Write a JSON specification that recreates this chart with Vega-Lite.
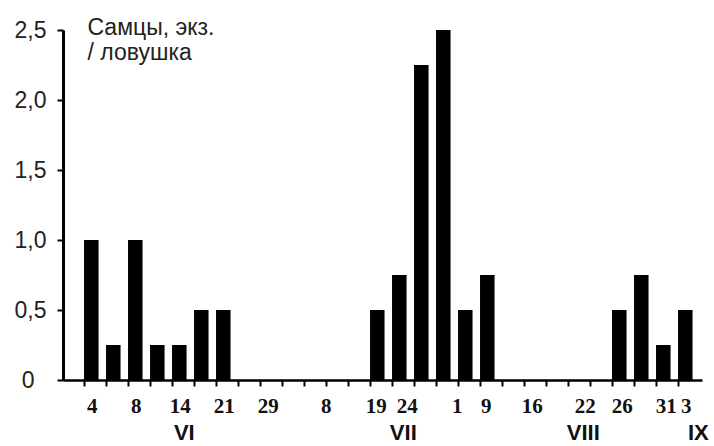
{
  "$schema": "https://vega.github.io/schema/vega-lite/v6.json",
  "width": 639,
  "height": 350,
  "autosize": {"type": "none"},
  "padding": {"left": 63, "top": 30, "right": 12, "bottom": 66},
  "background": "white",
  "config": {"view": {"stroke": null}, "axis": {"grid": false}},
  "data": {
    "values": [
      {"date": "06-04", "v": 1.0},
      {"date": "06-06", "v": 0.25},
      {"date": "06-08", "v": 1.0},
      {"date": "06-11", "v": 0.25},
      {"date": "06-14", "v": 0.25},
      {"date": "06-17", "v": 0.5},
      {"date": "06-21", "v": 0.5},
      {"date": "06-25", "v": 0},
      {"date": "06-29", "v": 0},
      {"date": "07-02", "v": 0},
      {"date": "07-05", "v": 0},
      {"date": "07-08", "v": 0},
      {"date": "07-13", "v": 0},
      {"date": "07-19", "v": 0.5},
      {"date": "07-22", "v": 0.75},
      {"date": "07-24", "v": 2.25},
      {"date": "07-28", "v": 2.5},
      {"date": "08-01", "v": 0.5},
      {"date": "08-09", "v": 0.75},
      {"date": "08-12", "v": 0},
      {"date": "08-16", "v": 0},
      {"date": "08-19", "v": 0},
      {"date": "08-22", "v": 0},
      {"date": "08-24", "v": 0},
      {"date": "08-26", "v": 0.5},
      {"date": "08-29", "v": 0.75},
      {"date": "08-31", "v": 0.25},
      {"date": "09-03", "v": 0.5}
    ]
  },
  "layer": [
    {
      "mark": {"type": "bar", "color": "black"},
      "encoding": {
        "x": {
          "field": "date",
          "type": "ordinal",
          "sort": null,
          "scale": {"paddingInner": 0.34, "paddingOuter": 0.693, "align": 0.69},
          "axis": {
            "orient": "bottom",
            "title": null,
            "bandPosition": 0,
            "domainColor": "black",
            "domainWidth": 2.5,
            "tickColor": "black",
            "tickWidth": 2,
            "tickSize": 6,
            "labelAngle": 0,
            "labelFont": "Liberation Serif",
            "labelFontSize": 21,
            "labelFontWeight": "bold",
            "labelColor": "#111111",
            "labelPadding": 9,
            "labelBaseline": "top",
            "labelAlign": "center",
            "labelOverlap": false,
            "labelOffset": {"expr": "datum.value == '07-08' ? -7 : datum.value == '07-19' ? -1 : datum.value == '07-24' ? -14 : datum.value == '08-01' ? -8 : datum.value == '08-09' ? -1 : datum.value == '08-22' ? 10 : datum.value == '08-26' ? 3 : datum.value == '08-31' ? 3 : 1"},
            "labelExpr": "indexof(['06-04','06-08','06-14','06-21','06-29','07-08','07-19','07-24','08-01','08-09','08-16','08-22','08-26','08-31','09-03'], datum.value) >= 0 ? '' + toNumber(substring(datum.value, 3)) : ''"
          }
        },
        "y": {
          "field": "v",
          "type": "quantitative",
          "scale": {"domain": [0, 2.5], "nice": false},
          "axis": {
            "values": [0, 0.5, 1, 1.5, 2, 2.5],
            "labelExpr": "datum.value == 0 ? '0' : replace(format(datum.value, '.1f'), '.', ',')",
            "domainColor": "black",
            "domainWidth": 3,
            "tickColor": "black",
            "tickWidth": 2,
            "tickSize": 6,
            "labelFont": "Liberation Sans",
            "labelFontSize": 23,
            "labelColor": "#222222",
            "labelPadding": {"condition": {"test": "datum.value == 0", "value": 23}, "value": 11},
            "title": ["Самцы, экз.", "/ ловушка"],
            "titleAngle": 0,
            "titleAlign": "left",
            "titleBaseline": "top",
            "titleX": 24,
            "titleY": -14,
            "titleFont": "Liberation Sans",
            "titleFontSize": 23,
            "titleFontWeight": "normal",
            "titleColor": "#222222",
            "titleLineHeight": 25
          }
        }
      }
    },
    {
      "mark": {"type": "point", "opacity": 0},
      "encoding": {
        "x": {
          "field": "date",
          "type": "ordinal",
          "sort": null,
          "axis": {
            "orient": "bottom",
            "title": null,
            "bandPosition": 0,
            "domain": false,
            "ticks": false,
            "labelAngle": 0,
            "labelFont": "Liberation Sans",
            "labelFontSize": 22,
            "labelFontWeight": "bold",
            "labelColor": "#111111",
            "labelPadding": 42,
            "labelBaseline": "top",
            "labelAlign": "center",
            "labelOverlap": false,
            "labelOffset": {"expr": "datum.value == '06-14' ? 5 : datum.value == '07-22' ? 4 : datum.value == '08-22' ? 8 : 13"},
            "labelExpr": "datum.value == '06-14' ? 'VI' : datum.value == '07-22' ? 'VII' : datum.value == '08-22' ? 'VIII' : datum.value == '09-03' ? 'IX' : ''"
          }
        }
      }
    }
  ],
  "resolve": {"axis": {"x": "independent"}}
}
